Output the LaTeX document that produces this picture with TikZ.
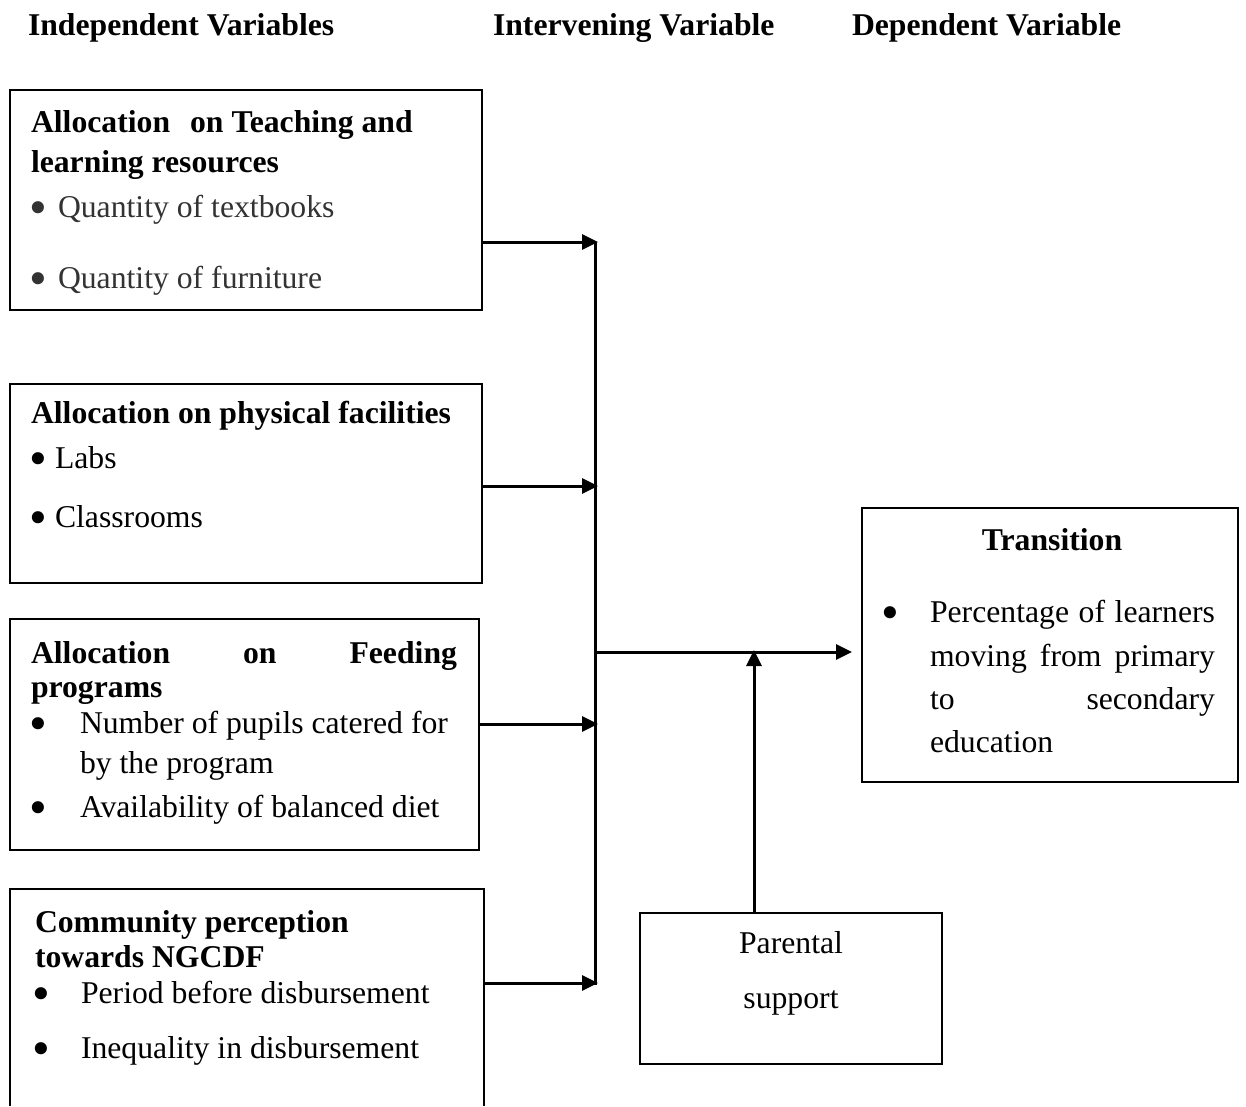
\documentclass[tikz,border=0pt]{standalone}
\usepackage{fontspec}
\setmainfont{Liberation Serif}
\usetikzlibrary{arrows.meta}
\newcommand{\bigbul}{\raisebox{-7.5pt}{\scalebox{1.6}{•}}}
\begin{document}
\begin{tikzpicture}[x=1pt,y=-1pt,
  every node/.style={font=\fontsize{31.7}{43}\selectfont, inner sep=0pt, outer sep=0pt},
  txt/.style={anchor=base west},
  hdr/.style={anchor=base west, font=\fontsize{31.7}{43}\selectfont\bfseries},
  bld/.style={anchor=base west, font=\fontsize{31.7}{43}\selectfont\bfseries},
  bul/.style={anchor=base},
  boxline/.style={line width=2.4pt, line join=miter},
  box/.style={draw, line width=2.4pt, anchor=north west},
  conn/.style={line width=3pt},
  arr/.style={line width=3pt, -{Triangle[length=16pt,width=15pt]}}
]
\useasboundingbox[fill=white] (0,0) rectangle (1246,1106);

% headers
\node[hdr] (h1) at (28,35) {Independent Variables};
\node[hdr] (h2) at (493,35) {Intervening Variable};
\node[hdr] (h3) at (852,35) {Dependent Variable};

% box 1
\node[box, minimum width=472pt, minimum height=220pt] (b1) at (10,90) {};
\node[bld] (b1t1) at (31,132) {Allocation\hspace{20pt}on Teaching and};
\node[bld] (b1t2) at (31,172) {learning resources};
\node[bul, text=black!80] (b1d1) at (38,217) {\bigbul};
\node[txt, text=black!80] (b1i1) at (58,217) {Quantity of textbooks};
\node[bul, text=black!80] (b1d2) at (38,288) {\bigbul};
\node[txt, text=black!80] (b1i2) at (58,288) {Quantity of furniture};

% box 2
\node[box, minimum width=472pt, minimum height=199pt] (b2) at (10,384) {};
\node[bld] (b2t1) at (31,423) {Allocation on physical facilities};
\node[bul] (b2d1) at (38,468) {\bigbul};
\node[txt] (b2i1) at (55,468) {Labs};
\node[bul] (b2d2) at (38,527) {\bigbul};
\node[txt] (b2i2) at (55,527) {Classrooms};

% box 3
\node[box, minimum width=469pt, minimum height=231pt] (b3) at (10,619) {};
\node[bld] (b3t1) at (31,663) {\makebox[426pt][s]{Allocation on Feeding}};
\node[bld] (b3t2) at (31,697) {programs};
\node[bul] (b3d1) at (38,733) {\bigbul};
\node[txt] (b3i1) at (80,733) {Number of pupils catered for};
\node[txt] (b3i1b) at (80,773) {by the program};
\node[bul] (b3d2) at (38,817) {\bigbul};
\node[txt] (b3i2) at (80,817) {Availability of balanced diet};

% box 4 (open at the bottom)
\node[anchor=north west, minimum width=474pt, minimum height=217pt] (b4) at (10,889) {};
\draw[boxline] (b4.south west) -- (b4.north west) -- (b4.north east) -- (b4.south east);
\node[bld] (b4t1) at (35,932) {Community perception};
\node[bld] (b4t2) at (35,967) {towards NGCDF};
\node[bul] (b4d1) at (41,1003) {\bigbul};
\node[txt] (b4i1) at (81,1003) {Period before disbursement};
\node[bul] (b4d2) at (41,1058) {\bigbul};
\node[txt] (b4i2) at (81,1058) {Inequality in disbursement};

% transition box
\node[box, minimum width=376pt, minimum height=274pt] (tb) at (862,508) {};
\node[bld, anchor=base] (tbt) at (1052,550) {Transition};
\node[bul] (tbd) at (890,622) {\bigbul};
\node[txt] (tbl1) at (930,622) {\makebox[285pt][s]{Percentage of learners}};
\node[txt] (tbl2) at (930,666) {\makebox[285pt][s]{moving from primary}};
\node[txt] (tbl3) at (930,709) {\makebox[285pt][s]{to secondary}};
\node[txt] (tbl4) at (930,752) {education};

% parental support box
\node[box, minimum width=302pt, minimum height=151pt] (pb) at (640,913) {};
\node[anchor=base] (pbt1) at (791,953) {Parental};
\node[anchor=base] (pbt2) at (791,1008) {support};

% junction coordinates
\coordinate (vtop) at (595,242);
\coordinate (vbot) at (595,985);
\coordinate (j1) at (598,242);
\coordinate (j2) at (598,486);
\coordinate (j3) at (598,724);
\coordinate (j4) at (598,983);
\coordinate (m0) at (595,652);
\coordinate (mtip) at (852,652);
\coordinate (pbot) at (754,913);
\coordinate (ptip) at (754,650);

% connectors
\draw[conn] (vtop) -- (vbot);
\draw[arr] (b1.east |- j1) -- (j1);
\draw[arr] (b2.east |- j2) -- (j2);
\draw[arr] (b3.east |- j3) -- (j3);
\draw[arr] (b4.east |- j4) -- (j4);
\draw[arr] (m0) -- (mtip);
\draw[arr] (pbot) -- (ptip);
\end{tikzpicture}
\end{document}
